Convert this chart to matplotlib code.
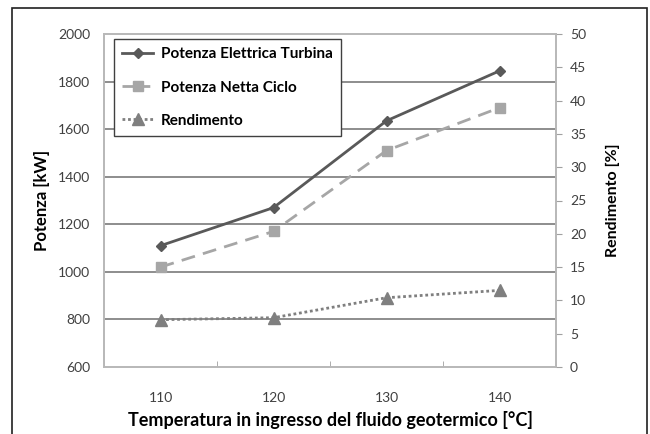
import matplotlib.pyplot as plt
from matplotlib.lines import Line2D
from matplotlib.patches import Rectangle

# Data
temperature = ['110', '120', '130', '140']
potenza_turbina = [1110, 1270, 1635, 1845]
potenza_netta = [1020, 1170, 1510, 1690]
rendimento = [7.1, 7.4, 10.4, 11.5]

plt.rcParams['font.family'] = ['Lato', 'DejaVu Sans']

fig = plt.figure(figsize=(6.5, 4.34), dpi=100)
ax = fig.add_axes([104 / 650, 1 - 367 / 434, 452 / 650, 333 / 434])
ax2 = ax.twinx()

# outer frame
fig.patches.append(Rectangle((12 / 650, -0.02), 635 / 650, 1 - 8 / 434 + 0.02,
                             transform=fig.transFigure, fill=False,
                             edgecolor='#202020', linewidth=1.2))

x = range(len(temperature))
ax.plot(x, potenza_turbina, color='#595959', linewidth=2, marker='D',
        markersize=5.5, label='Potenza Elettrica Turbina', zorder=4)
ax.plot(x, potenza_netta, color='#a6a6a6', linewidth=2, linestyle=(0, (5, 3)),
        marker='s', markersize=7, label='Potenza Netta Ciclo', zorder=4)
ax2.plot(x, rendimento, color='#7f7f7f', linewidth=2, linestyle=(0, (1, 1)),
         marker='^', markersize=8, label='Rendimento', zorder=4)

ax.set_xlim(-0.5, 3.5)
ax.set_ylim(600, 2000)
ax.set_yticks(range(600, 2001, 200))
ax2.set_ylim(0, 50)
ax2.set_yticks(range(0, 51, 5))

ax.set_xticks(list(x))
ax.set_xticklabels(temperature)
ax.set_xticks([-0.5, 0.5, 1.5, 2.5, 3.5], minor=True)
ax.tick_params(axis='x', which='major', length=0, pad=18, labelsize=10, labelcolor='#404040')
ax.tick_params(axis='x', which='minor', direction='in', length=4, color='#a0a0a0')
ax.tick_params(axis='y', length=0, pad=10, labelsize=10, labelcolor='#404040')
ax2.tick_params(axis='y', direction='out', length=4, color='#a0a0a0', pad=6,
                labelsize=10, labelcolor='#404040')

for v in range(800, 2000, 200):
    ax.axhline(v, color='#7a7a7a', linewidth=1.2, zorder=1)

for a in (ax, ax2):
    for s in a.spines.values():
        s.set_color('#b8b8b8')
        s.set_linewidth(1.2)

ax.set_ylabel('Potenza [kW]', fontsize=12, fontweight='bold', labelpad=6)
ax2.set_ylabel('Rendimento [%]', fontsize=11.5, fontweight='bold', labelpad=14)
ax.set_xlabel('Temperatura in ingresso del fluido geotermico [°C]', fontsize=13,
              fontweight='bold', labelpad=5)

handles = [
    Line2D([], [], color='#595959', linewidth=2, marker='D', markersize=5.5),
    Line2D([], [], color='#a6a6a6', linewidth=2, linestyle=(0, (4, 2)), marker='s', markersize=7),
    Line2D([], [], color='#7f7f7f', linewidth=2, linestyle=(0, (1, 1)), marker='^', markersize=8),
]
labels = ['Potenza Elettrica Turbina', 'Potenza Netta Ciclo', 'Rendimento']
leg = ax2.legend(handles, labels, loc='upper left', bbox_to_anchor=(114 / 650, 1 - 39 / 434),
                 bbox_transform=fig.transFigure, frameon=True, fancybox=False,
                 edgecolor='#404040', framealpha=1, borderaxespad=0,
                 labelspacing=1.25, handlelength=2.0, handletextpad=0.5,
                 borderpad=0.55, prop={'weight': 'bold', 'size': 11})
leg.get_frame().set_linewidth(1.0)
leg.set_zorder(10)

fig.savefig('out.png', dpi=100)
